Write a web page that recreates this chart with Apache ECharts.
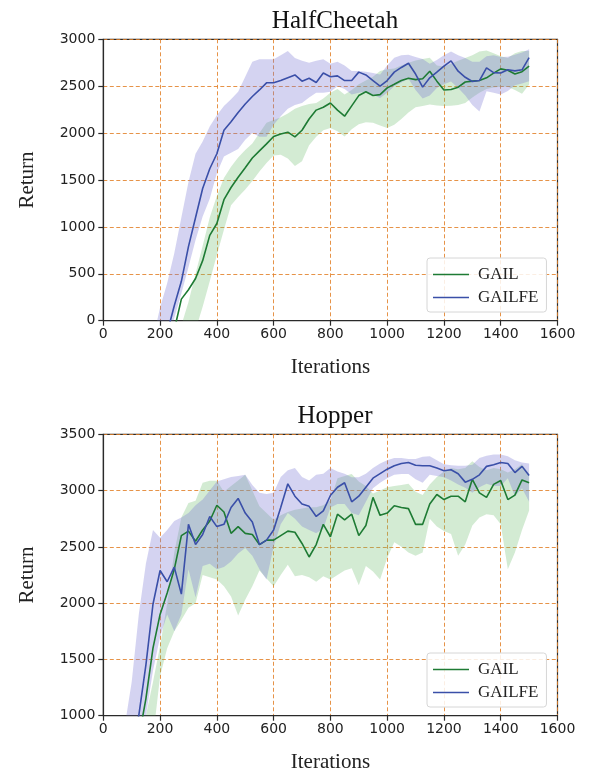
<!DOCTYPE html>
<html><head><meta charset="utf-8">
<script src="https://cdn.jsdelivr.net/npm/echarts@6/dist/echarts.min.js"></script>
<style>html,body{margin:0;padding:0;background:#fff}#c{width:591px;height:775px}</style>
</head><body><div id="c"></div>
<script>
// Iterations (x) shared by all series
const iterations = [0,25,50,75,100,125,150,175,200,225,250,275,300,325,350,375,400,425,450,475,500,525,550,575,600,625,650,675,700,725,750,775,800,825,850,875,900,925,950,975,1000,1025,1050,1075,1100,1125,1150,1175,1200,1225,1250,1275,1300,1325,1350,1375,1400,1425,1450,1475,1500];

// HalfCheetah
const hcTicks = [0,500,1000,1500,2000,2500,3000];
const hcGailMean = [-900,-900,-890,-880,-870,-860,-840,-760,-600,-350,-100,230,330,450,640,910,1036,1290,1420,1530,1630,1735,1810,1885,1964,1990,2010,1960,2030,2150,2245,2275,2321,2245,2180,2290,2400,2440,2400,2410,2482,2520,2560,2585,2570,2580,2660,2554,2460,2465,2490,2545,2554,2560,2589,2640,2685,2670,2630,2655,2714];
const hcGailUpper = [-700,-700,-690,-680,-670,-660,-640,-600,-500,-400,-300,-50,200,500,800,1100,1330,1520,1640,1740,1820,1890,2000,2110,2140,2170,2210,2260,2290,2310,2321,2370,2430,2470,2411,2460,2520,2560,2600,2661,2680,2690,2720,2750,2775,2790,2804,2720,2710,2740,2770,2800,2830,2870,2880,2850,2820,2800,2850,2875,2875];
const hcGailLower = [-1100,-1100,-1090,-1080,-1070,-1060,-1040,-1000,-950,-850,-750,-650,-500,-100,150,420,700,970,1230,1320,1400,1490,1590,1680,1760,1770,1730,1650,1700,1870,1960,2030,2054,2020,1964,2040,2095,2115,2110,2080,2054,2090,2150,2220,2275,2290,2304,2295,2288,2292,2300,2320,2380,2430,2470,2485,2495,2495,2460,2420,2518];
const hcGailfeMean = [-900,-900,-880,-870,-860,-850,-800,-650,-470,-130,160,420,790,1100,1410,1620,1780,2030,2120,2220,2310,2390,2460,2536,2536,2560,2590,2620,2554,2585,2540,2640,2600,2610,2560,2560,2650,2620,2560,2500,2560,2650,2700,2745,2630,2490,2589,2650,2714,2770,2660,2595,2550,2560,2696,2645,2640,2675,2663,2675,2804];
const hcGailfeUpper = [-700,-700,-680,-670,-660,-650,-500,-200,140,400,720,1100,1480,1780,1910,2070,2190,2290,2360,2440,2600,2760,2786,2786,2786,2830,2875,2800,2770,2750,2770,2786,2740,2760,2720,2661,2661,2655,2640,2625,2720,2804,2830,2835,2810,2790,2740,2780,2830,2870,2830,2800,2760,2760,2820,2830,2810,2815,2835,2860,2893];
const hcGailfeLower = [-1100,-1100,-1080,-1070,-1060,-1050,-1000,-900,-650,-250,30,290,570,860,1110,1300,1571,1750,1790,1830,1930,2000,1960,1960,2090,2180,2260,2300,2320,2380,2429,2429,2440,2500,2470,2411,2430,2440,2410,2375,2430,2500,2540,2580,2460,2370,2400,2480,2520,2550,2480,2400,2300,2230,2446,2430,2411,2450,2510,2530,2554];

// Hopper
const hpTicks = [1000,1500,2000,2500,3000,3500];
const hpGailMean = [300,320,350,400,550,800,1150,1600,1900,2090,2300,2600,2640,2550,2650,2730,2870,2810,2620,2680,2620,2610,2520,2560,2560,2600,2640,2630,2530,2410,2520,2700,2590,2790,2740,2790,2600,2690,2940,2780,2800,2865,2850,2840,2700,2700,2880,2965,2920,2950,2950,2900,3100,2980,2940,3055,3090,2920,2960,3095,3070];
const hpGailUpper = [500,520,550,600,700,850,1000,1300,1620,2000,2450,2760,2890,2910,3070,3088,3088,2990,3040,3090,3140,3000,2860,2800,2740,2780,2810,2830,2840,2853,2853,2870,2912,3110,3130,3147,3080,3040,2975,3000,3030,3040,3050,3060,2990,2960,3055,3120,3170,3200,3190,3200,3260,3210,3180,3200,3190,3160,3190,3235,3150];
const hpGailLower = [100,120,150,200,300,400,600,800,1350,1600,1750,1850,1960,2000,2250,2230,2210,2150,2060,1890,2030,2150,2290,2220,2150,2250,2340,2240,2250,2230,2190,2240,2210,2250,2290,2310,2160,2330,2280,2210,2400,2540,2500,2450,2420,2450,2750,2680,2640,2615,2420,2520,2690,2760,2790,2780,2700,2300,2450,2650,2824];
const hpGailfeMean = [400,450,500,600,800,1000,1450,1990,2290,2190,2320,2080,2700,2520,2610,2770,2680,2700,2850,2930,2800,2720,2520,2560,2650,2850,3060,2950,2880,2860,2770,2820,2956,3030,3070,2900,2950,3030,3110,3150,3190,3220,3240,3250,3225,3220,3221,3200,3176,3185,3150,3075,3100,3140,3215,3230,3250,3240,3160,3215,3135];
const hpGailfeUpper = [600,650,750,900,1300,1900,2350,2650,2580,2650,2730,2760,2800,2870,2920,3000,3080,3100,3120,3130,3140,3050,2980,2970,2980,3120,3180,3200,3120,3090,3140,3150,3200,3170,3150,3118,3118,3150,3200,3240,3270,3290,3290,3280,3280,3300,3305,3270,3235,3225,3220,3220,3230,3290,3310,3320,3320,3305,3270,3250,3240];
const hpGailfeLower = [200,250,300,400,500,700,1000,1400,1700,1900,1750,1900,2300,2050,2330,2350,2300,2320,2370,2440,2490,2420,2300,2210,2500,2700,2800,2750,2680,2650,2620,2660,2850,2880,2880,2800,2780,2900,3020,3070,3110,3140,3147,3147,3100,3070,3140,3130,3118,3090,3055,3025,2980,3030,3060,3040,3040,3110,2950,3020,2900];

const C_GAIL = '#1e7b34', C_FE = '#3a4fa8';
const BAND_GAIL = 'rgba(110,190,110,0.3)', BAND_FE = 'rgba(120,118,210,0.32)';
const GRID_C = 'rgba(226,128,40,0.85)';
const SERIF = '"Liberation Serif","DejaVu Serif",serif';
const SANS = '"DejaVu Sans",sans-serif';

function pairs(arr){ return iterations.map((x,i)=>[x,arr[i]]); }
function triples(l,u){ return iterations.map((x,i)=>[x,l[i],u[i]]); }

function band(idx, lower, upper, color){
  return {
    type:'custom', xAxisIndex:idx, yAxisIndex:idx, silent:true, z:1, clip:true,
    data: triples(lower, upper),
    encode:{x:0, y:[1,2]},
    renderItem: function(params, api){
      if (params.dataIndexInside !== 0) return null;
      const pts = [];
      for (let i=0;i<iterations.length;i++) pts.push(api.coord([iterations[i], upper[i]]));
      for (let i=iterations.length-1;i>=0;i--) pts.push(api.coord([iterations[i], lower[i]]));
      const cs = params.coordSys;
      return {type:'polygon', shape:{points:pts}, style:{fill:color},
        clipPath:{type:'rect', shape:{x:cs.x, y:cs.y, width:cs.width, height:cs.height}}};
    }
  };
}
function meanLine(idx, arr, color, name){
  return {type:'line', name:name, xAxisIndex:idx, yAxisIndex:idx, data:pairs(arr), symbol:'none', clip:true, lineStyle:{color:color, width:1.6}, itemStyle:{color:color}, z:3};
}

const gridTop = [39.3, 434.3];
const grids = gridTop.map(t=>({left:103.3, width:454.2, top:t, height:281.4, show:true, borderColor:'#2a2a2a', borderWidth:1.2, backgroundColor:'transparent'}));

function xAx(idx){
  return {gridIndex:idx, type:'value', min:0, max:1600, interval:200,
    name:'Iterations', nameLocation:'middle', nameGap:36, nameTextStyle:{fontFamily:SERIF, fontSize:21, color:'#222'},
    axisLine:{show:true, onZero:false, lineStyle:{color:'#2a2a2a', width:1.2}},
    axisTick:{show:true, length:5, inside:false, lineStyle:{color:'#2a2a2a', width:1.2}},
    axisLabel:{fontFamily:SANS, fontSize:14, color:'#222', margin:7, formatter:v=>String(v)},
    splitLine:{show:true, lineStyle:{color:GRID_C, type:[4,2.5], width:1}}};
}
function yAx(idx, ticks){
  return {gridIndex:idx, type:'value', min:ticks[0], max:ticks[ticks.length-1], interval:ticks[1]-ticks[0],
    name:'Return', nameLocation:'middle', nameGap:65, nameRotate:90, nameTextStyle:{fontFamily:SERIF, fontSize:21, color:'#222'},
    axisLine:{show:true, lineStyle:{color:'#2a2a2a', width:1.2}},
    axisTick:{show:true, length:5, inside:false, lineStyle:{color:'#2a2a2a', width:1.2}},
    axisLabel:{fontFamily:SANS, fontSize:14, color:'#222', margin:8, formatter:v=>String(v)},
    splitLine:{show:true, lineStyle:{color:GRID_C, type:[4,2.5], width:1}}};
}

const series = [
  band(0, hcGailLower, hcGailUpper, BAND_GAIL),
  band(0, hcGailfeLower, hcGailfeUpper, BAND_FE),
  meanLine(0, hcGailMean, C_GAIL, 'GAIL'),
  meanLine(0, hcGailfeMean, C_FE, 'GAILFE'),
  band(1, hpGailLower, hpGailUpper, BAND_GAIL),
  band(1, hpGailfeLower, hpGailfeUpper, BAND_FE),
  meanLine(1, hpGailMean, C_GAIL, 'GAIL'),
  meanLine(1, hpGailfeMean, C_FE, 'GAILFE')
];

function legend(top){
  return {data:['GAIL','GAILFE'], orient:'vertical', left:427, top:top, padding:[8,8,6,6], itemGap:6,
    itemWidth:36, itemHeight:14, icon:'path://M0,6 L36,6 L36,7.6 L0,7.6 Z',
    backgroundColor:'rgba(255,255,255,0.85)', borderColor:'#d6d6d6', borderWidth:1, borderRadius:3,
    textStyle:{fontFamily:SERIF, fontSize:17, color:'#222', padding:[0,0,0,4]}};
}

const chart = echarts.init(document.getElementById('c'), null, {renderer:'canvas'});
chart.setOption({
  animation:false,
  title:[
    {text:'HalfCheetah', top:4, textStyle:{fontFamily:SERIF, fontSize:25, fontWeight:'normal', color:'#111'}, left:330, textAlign:'center'},
    {text:'Hopper', top:399, textStyle:{fontFamily:SERIF, fontSize:25, fontWeight:'normal', color:'#111'}, left:330, textAlign:'center'}
  ],
  grid: grids,
  xAxis:[xAx(0), xAx(1)],
  yAxis:[yAx(0, hcTicks), yAx(1, hpTicks)],
  legend:[legend(258), legend(653)],
  series: series
});
</script></body></html>
